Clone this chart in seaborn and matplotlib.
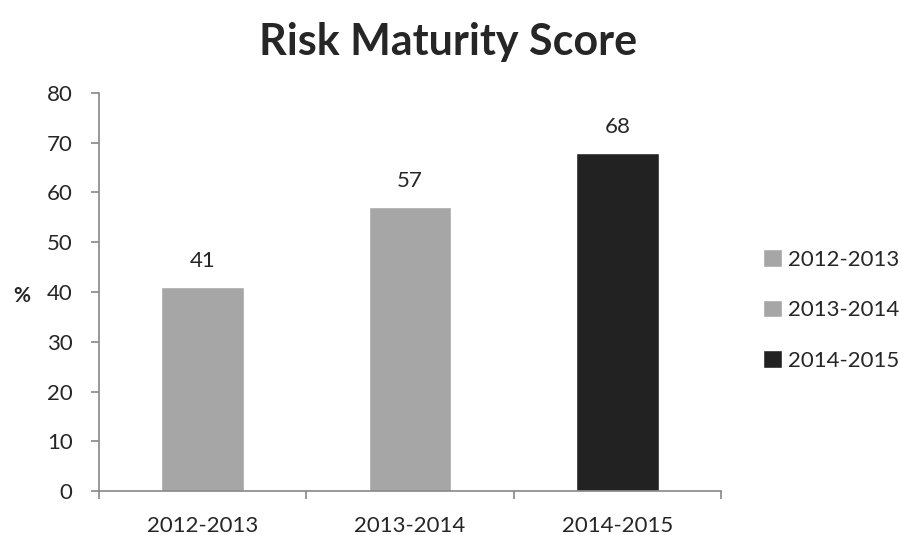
import numpy as np
import pandas as pd
import matplotlib
matplotlib.use("Agg")
import matplotlib.pyplot as plt
import seaborn as sns

sns.set_style("white")
plt.rcParams['font.family'] = ['Lato', 'DejaVu Sans']

years = ["2012-2013", "2013-2014", "2014-2015"]
scores = [41, 57, 68]
colours = ["#a6a6a6", "#a6a6a6", "#222222"]

df = pd.DataFrame({"year": years, "score": scores})

fig = plt.figure(figsize=(9.02, 5.35), dpi=100)
ax = fig.add_axes([0.1098, 0.0822, 0.6895, 0.744])

sns.barplot(data=df, x="year", y="score", hue="year", palette=colours,
            width=0.4, dodge=False, saturation=1, legend=True, ax=ax)

for i, v in enumerate(scores):
    ax.text(i, v + 3.2, str(v), ha="center", va="bottom", fontsize=16)

ax.set_ylim(0, 80)
ax.set_xlim(-0.5, 2.5)
ax.set_yticks(range(0, 81, 10))
ax.set_xticks(np.arange(-0.5, 3, 1), minor=True)
ax.tick_params(axis="x", which="major", length=0, pad=18, labelsize=16)
ax.tick_params(axis="x", which="minor", length=6, color="#888888", width=1.2, direction="out")
ax.tick_params(axis="y", length=6, color="#888888", width=1.2, direction="out", labelsize=16, pad=13)
ax.xaxis.set_tick_params(bottom=True, which="minor")
ax.yaxis.set_tick_params(left=True)

for s in ["top", "right"]:
    ax.spines[s].set_visible(False)
for s in ["left", "bottom"]:
    ax.spines[s].set_color("#888888")
    ax.spines[s].set_linewidth(1.2)

ax.set_xlabel("")
ax.set_ylabel("%", rotation=0, fontsize=15, fontweight="bold", ha="center", va="center")
ax.yaxis.set_label_coords(-0.124, 0.49)

ax.legend(loc="center left", bbox_to_anchor=(1.035, 0.455), frameon=False,
          fontsize=16, labelspacing=1.35, handlelength=0.85, handleheight=0.85,
          handletextpad=0.3)

fig.suptitle("Risk Maturity Score", x=0.497, y=0.958, fontsize=31, fontweight="bold")

fig.savefig("out.png", dpi=100)
